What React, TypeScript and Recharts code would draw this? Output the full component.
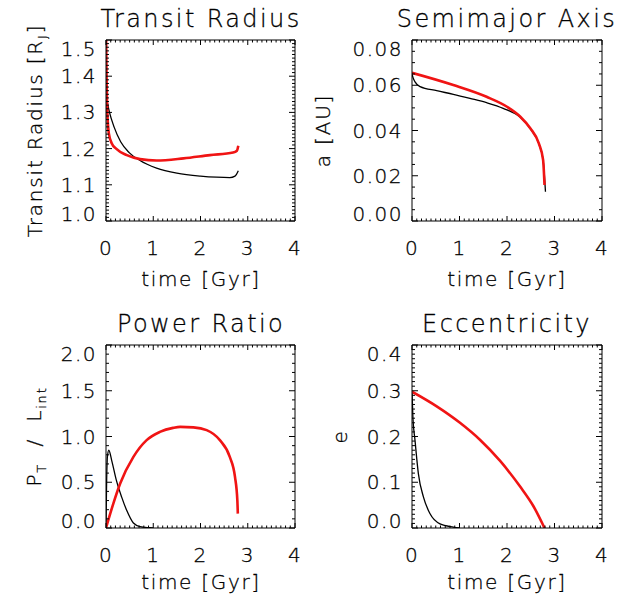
import React from 'react';
import { LineChart, Line, XAxis, YAxis } from 'recharts';

const FONT = "'DejaVu Sans', 'Liberation Sans', sans-serif";
const FW = 200;
const INK = '#000000';
const RED = '#f01414';
const TXT_STROKE = 0.3;

type Pt = { t: number; v: number };

// ---- tick labels ----
const timeTicks = [0, 1, 2, 3, 4];
const radiusTicks = [1.0, 1.1, 1.2, 1.3, 1.4, 1.5];
const axisTicks = [0.0, 0.02, 0.04, 0.06, 0.08];
const powerTicks = [0.0, 0.5, 1.0, 1.5, 2.0];
const eccTicks = [0.0, 0.1, 0.2, 0.3, 0.4];

const steps = (a: number, b: number, s: number) => {
  const n = Math.round((b - a) / s);
  return Array.from({ length: n + 1 }, (_, i) => +(a + i * s).toFixed(6));
};
const timeMinor = steps(0, 4, 0.1);
const radiusMinor = steps(1.0, 1.5, 0.01);
const axisMinor = steps(0, 0.08, 0.005);
const powerMinor = steps(0, 2.0, 0.1);
const eccMinor = steps(0, 0.4, 0.01);

// ---- series: Transit Radius [R_J] ----
const radiusBlack: Pt[] = [
  { t: 0.01, v: 1.34 }, { t: 0.07, v: 1.302 }, { t: 0.17, v: 1.26 }, { t: 0.31, v: 1.219 },
  { t: 0.49, v: 1.189 }, { t: 0.72, v: 1.167 }, { t: 1.07, v: 1.146 }, { t: 1.5, v: 1.132 },
  { t: 2.0, v: 1.124 }, { t: 2.34, v: 1.121 }, { t: 2.62, v: 1.12 }, { t: 2.73, v: 1.124 },
  { t: 2.8, v: 1.139 },
];
const radiusRed: Pt[] = [
  { t: 0.003, v: 1.5 }, { t: 0.012, v: 1.4 }, { t: 0.028, v: 1.3 }, { t: 0.06, v: 1.242 },
  { t: 0.12, v: 1.215 }, { t: 0.22, v: 1.199 }, { t: 0.44, v: 1.182 }, { t: 0.72, v: 1.171 },
  { t: 1.07, v: 1.167 }, { t: 1.64, v: 1.173 }, { t: 2.2, v: 1.182 }, { t: 2.69, v: 1.189 },
  { t: 2.77, v: 1.194 }, { t: 2.8, v: 1.208 },
];

// ---- series: Semimajor Axis [AU] ----
const axisBlack: Pt[] = [
  { t: 0.0, v: 0.065 }, { t: 0.02, v: 0.0635 }, { t: 0.06, v: 0.0616 }, { t: 0.17, v: 0.0594 },
  { t: 0.52, v: 0.0576 }, { t: 0.87, v: 0.056 }, { t: 1.22, v: 0.0542 }, { t: 1.57, v: 0.0523 },
  { t: 1.92, v: 0.0498 }, { t: 2.28, v: 0.0458 }, { t: 2.49, v: 0.0408 }, { t: 2.67, v: 0.0342 },
  { t: 2.76, v: 0.027 }, { t: 2.81, v: 0.0129 },
];
const axisRed: Pt[] = [
  { t: 0.0, v: 0.0655 }, { t: 0.87, v: 0.0601 }, { t: 1.57, v: 0.0549 }, { t: 2.0, v: 0.0505 },
  { t: 2.28, v: 0.0461 }, { t: 2.49, v: 0.041 }, { t: 2.67, v: 0.0343 }, { t: 2.76, v: 0.027 },
  { t: 2.79, v: 0.0159 },
];

// ---- series: Power Ratio P_T / L_int ----
const powerBlack: Pt[] = [
  { t: 0.0, v: 0.0 }, { t: 0.01, v: 0.4 }, { t: 0.03, v: 0.78 }, { t: 0.06, v: 0.85 },
  { t: 0.12, v: 0.74 }, { t: 0.22, v: 0.52 }, { t: 0.33, v: 0.34 }, { t: 0.44, v: 0.19 },
  { t: 0.58, v: 0.054 }, { t: 0.72, v: 0.015 }, { t: 0.93, v: 0.003 }, { t: 1.0, v: 0.0 },
];
const powerRed: Pt[] = [
  { t: 0.0, v: 0.0 }, { t: 0.155, v: 0.267 }, { t: 0.3, v: 0.486 }, { t: 0.58, v: 0.777 },
  { t: 0.86, v: 0.96 }, { t: 1.14, v: 1.05 }, { t: 1.42, v: 1.094 }, { t: 1.57, v: 1.105 },
  { t: 1.85, v: 1.1 }, { t: 2.13, v: 1.07 }, { t: 2.41, v: 0.96 }, { t: 2.62, v: 0.777 },
  { t: 2.73, v: 0.558 }, { t: 2.78, v: 0.3 }, { t: 2.79, v: 0.157 },
];

// ---- series: Eccentricity ----
const eccBlack: Pt[] = [
  { t: 0.0, v: 0.298 }, { t: 0.02, v: 0.24 }, { t: 0.063, v: 0.192 }, { t: 0.134, v: 0.119 },
  { t: 0.24, v: 0.068 }, { t: 0.38, v: 0.031 }, { t: 0.59, v: 0.009 }, { t: 0.87, v: 0.002 },
  { t: 1.0, v: 0.0 },
];
const eccRed: Pt[] = [
  { t: 0.0, v: 0.298 }, { t: 0.52, v: 0.266 }, { t: 1.01, v: 0.23 }, { t: 1.43, v: 0.193 },
  { t: 1.86, v: 0.146 }, { t: 2.28, v: 0.09 }, { t: 2.56, v: 0.047 }, { t: 2.79, v: 0.0 },
];

const isIn = (v: number, arr: number[]) => arr.some((a) => Math.abs(a - v) < 1e-9);

type PanelProps = {
  left: number; top: number; width: number; height: number;
  margin: { left: number; right: number; top: number; bottom: number };
  yDomain: [number, number]; yTicks: number[]; yMinor: number[]; digits: number;
  black: Pt[]; red: Pt[];
};

const X_MAJ = 5, X_MIN = 2.5, Y_MAJ = 6, Y_MIN = 3;

function Panel(p: PanelProps) {
  const bottomTick = (q: any) => {
    const v = q.payload.value as number;
    const major = isIn(v, timeTicks);
    return (
      <g>
        <line x1={q.x} x2={q.x} y1={q.y} y2={q.y - (major ? X_MAJ : X_MIN)} stroke={INK} strokeWidth={1} />
        {major && (
          <text x={q.x} y={q.y + 34} textAnchor="middle" fontFamily={FONT} fontWeight={FW}
            fontSize={20} letterSpacing={1.5} fill={INK} stroke={INK} strokeWidth={TXT_STROKE}>{v}</text>
        )}
      </g>
    );
  };
  const topTick = (q: any) => {
    const major = isIn(q.payload.value, timeTicks);
    return <line x1={q.x} x2={q.x} y1={q.y} y2={q.y + (major ? X_MAJ : X_MIN)} stroke={INK} strokeWidth={1} />;
  };
  const leftTick = (q: any) => {
    const v = q.payload.value as number;
    const major = isIn(v, p.yTicks);
    let dy = 7;
    if (Math.abs(v - p.yDomain[1]) < 1e-9) dy += 9;
    if (Math.abs(v - p.yDomain[0]) < 1e-9) dy -= 7;
    return (
      <g>
        <line x1={q.x} x2={q.x + (major ? Y_MAJ : Y_MIN)} y1={q.y} y2={q.y} stroke={INK} strokeWidth={1} />
        {major && (
          <text x={q.x - 9} y={q.y + dy} textAnchor="end" fontFamily={FONT} fontWeight={FW}
            fontSize={20} letterSpacing={1.5} fill={INK} stroke={INK} strokeWidth={TXT_STROKE}>{v.toFixed(p.digits)}</text>
        )}
      </g>
    );
  };
  const rightTick = (q: any) => {
    const major = isIn(q.payload.value, p.yTicks);
    return <line x1={q.x} x2={q.x - (major ? Y_MAJ : Y_MIN)} y1={q.y} y2={q.y} stroke={INK} strokeWidth={1} />;
  };
  const xc = { type: 'number' as const, domain: [0, 4], allowDataOverflow: true, interval: 0 as const, height: 1, dataKey: 't', ticks: timeMinor, tickSize: 0, tickMargin: 0, tickLine: false };
  const yc = { type: 'number' as const, domain: p.yDomain, allowDataOverflow: true, interval: 0 as const, width: 1, ticks: p.yMinor, tickSize: 0, tickMargin: 0, tickLine: false };
  const frame = { stroke: INK, strokeWidth: 1 };
  return (
    <div style={{ position: 'absolute', left: p.left, top: p.top }}>
      <LineChart width={p.width} height={p.height} margin={p.margin}>
        <XAxis xAxisId="b" {...xc} orientation="bottom" tick={bottomTick} axisLine={frame} />
        <XAxis xAxisId="t" {...xc} orientation="top" mirror tick={topTick} axisLine={frame} />
        <YAxis yAxisId="l" {...yc} orientation="left" tick={leftTick} axisLine={frame} />
        <YAxis yAxisId="r" {...yc} orientation="right" mirror tick={rightTick} axisLine={frame} />
        <Line xAxisId="b" yAxisId="l" data={p.black} dataKey="v" type="monotone" stroke={INK}
          strokeWidth={1.3} dot={false} activeDot={false} isAnimationActive={false} />
        <Line xAxisId="b" yAxisId="l" data={p.red} dataKey="v" type="monotone" stroke={RED}
          strokeWidth={2.6} dot={false} activeDot={false} isAnimationActive={false} />
      </LineChart>
    </div>
  );
}

const T = (props: any) => (
  <text fontFamily={FONT} fontWeight={FW} fill={INK} stroke={INK} strokeWidth={TXT_STROKE}
    style={{ whiteSpace: 'pre' }} {...props} />
);

const Sub = ({ children }: { children: React.ReactNode }) => (
  <tspan fontSize={13} dy={5}>{children}</tspan>
);

export default function App() {
  return (
    <div style={{ position: 'absolute', left: 0, top: 0, width: 639, height: 600, background: '#fff' }}>
      <Panel left={0} top={0} width={320} height={300}
        margin={{ left: 105, right: 25, top: 40, bottom: 78 }}
        yDomain={[1.0, 1.5]} yTicks={radiusTicks} yMinor={radiusMinor} digits={1}
        black={radiusBlack} red={radiusRed} />
      <Panel left={320} top={0} width={319} height={300}
        margin={{ left: 91, right: 37, top: 40, bottom: 78 }}
        yDomain={[0, 0.08]} yTicks={axisTicks} yMinor={axisMinor} digits={2}
        black={axisBlack} red={axisRed} />
      <Panel left={0} top={300} width={320} height={300}
        margin={{ left: 105, right: 25, top: 45, bottom: 71 }}
        yDomain={[0, 2.0]} yTicks={powerTicks} yMinor={powerMinor} digits={1}
        black={powerBlack} red={powerRed} />
      <Panel left={320} top={300} width={319} height={300}
        margin={{ left: 91, right: 37, top: 45, bottom: 71 }}
        yDomain={[0, 0.4]} yTicks={eccTicks} yMinor={eccMinor} digits={1}
        black={eccBlack} red={eccRed} />
      <svg width={639} height={600} style={{ position: 'absolute', left: 0, top: 0, pointerEvents: 'none' }}>
        <T x={201} y={27} fontSize={24} letterSpacing={2.4} textAnchor="middle">Transit Radius</T>
        <T x={507} y={27} fontSize={24} letterSpacing={2.4} textAnchor="middle">Semimajor Axis</T>
        <T x={201} y={332} fontSize={24} letterSpacing={2.4} textAnchor="middle">Power Ratio</T>
        <T x={507} y={332} fontSize={24} letterSpacing={2.4} textAnchor="middle">Eccentricity</T>

        <T x={201} y={286} fontSize={20} letterSpacing={1.7} textAnchor="middle">time [Gyr]</T>
        <T x={507} y={286} fontSize={20} letterSpacing={1.7} textAnchor="middle">time [Gyr]</T>
        <T x={201} y={589} fontSize={20} letterSpacing={1.7} textAnchor="middle">time [Gyr]</T>
        <T x={507} y={589} fontSize={20} letterSpacing={1.7} textAnchor="middle">time [Gyr]</T>

        <T transform="translate(42,130.5) rotate(-90)" fontSize={20} letterSpacing={1.8} textAnchor="middle">
          Transit Radius [R<Sub>J</Sub><tspan dy={-5}>]</tspan>
        </T>
        <T transform="translate(330,130.5) rotate(-90)" fontSize={20} letterSpacing={1.8} textAnchor="middle">a [AU]</T>
        <T transform="translate(41,436.5) rotate(-90)" fontSize={20} letterSpacing={1.8} textAnchor="middle">
          P<Sub>T</Sub><tspan dy={-5}>  /  L</tspan><Sub>int</Sub>
        </T>
        <T transform="translate(347,436.5) rotate(-90)" fontSize={20} letterSpacing={1.8} textAnchor="middle">e</T>
      </svg>
    </div>
  );
}
